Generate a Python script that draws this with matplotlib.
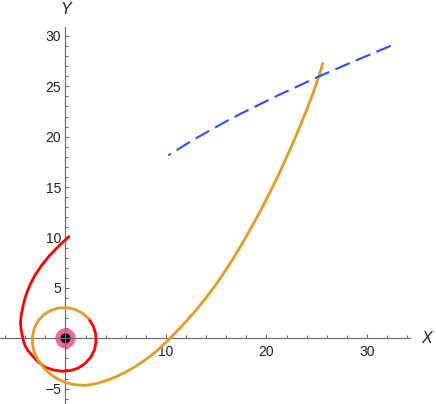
import matplotlib
matplotlib.use('Agg')
import matplotlib.pyplot as plt
from matplotlib.patches import Circle

plt.rcParams['font.family'] = ['Liberation Sans', 'DejaVu Sans']

# Red trajectory
red_x = [2.32, 2.76, 3.0, 3.04, 2.87, 2.49, 1.93, 1.24, 0.45, -0.38, -1.21, -2.04,
         -2.75, -3.07, -3.38, -3.71, -3.99, -4.18, -4.30, -4.42, -4.47, -4.43, -4.30,
         -4.14, -3.90, -3.55, -3.08, -2.40, -1.57, -0.59, 0.35]
red_y = [1.93, 1.23, 0.45, -0.37, -1.18, -1.91, -2.52, -2.97, -3.22, -3.27, -3.14, -2.87,
         -2.32, -1.99, -1.63, -1.24, -0.79, -0.28, 0.27, 0.86, 1.49, 2.15, 2.84,
         3.58, 4.38, 5.26, 6.18, 7.2, 8.22, 9.23, 10.09]

# Orange trajectory
orange_x = [2.30, 1.67, 0.93, 0.12, -0.70, -1.49, -2.18, -2.74, -3.11, -3.28, -3.28,
            -3.08, -2.69, -2.15, -1.43, -0.84, 0.0, 0.89, 1.98, 3.0, 4.0, 5.0, 6.0,
            7.0, 8.0, 9.0, 10.0, 10.4, 10.9, 11.4, 11.9, 12.4, 12.9, 13.4, 13.9, 14.4,
            14.9, 15.4, 15.9, 16.4, 16.9, 17.4, 17.9, 18.4, 18.9, 19.4, 19.9, 20.4,
            20.9, 21.4, 21.9, 22.4, 22.9, 23.4, 23.9, 24.4, 24.7, 25.0, 25.3, 25.6]
orange_y = [1.96, 2.50, 2.87, 3.04, 3.0, 2.76, 2.32, 1.71, 0.98, 0.17, -0.65,
            -1.47, -2.23, -2.95, -3.62, -4.0, -4.4, -4.60, -4.68, -4.51, -4.21, -3.83,
            -3.35, -2.77, -2.1, -1.33, -0.4, 0.0, 0.51, 1.03, 1.56, 2.11, 2.68, 3.28,
            3.91, 4.56, 5.24, 5.95, 6.69, 7.46, 8.26, 9.09, 9.94, 10.82, 11.72, 12.65,
            13.6, 14.59, 15.6, 16.65, 17.73, 18.85, 20.0, 21.19, 22.42, 23.7, 24.5,
            25.35, 26.27, 27.27]

# Blue dashed trajectory
blue_x = [10.23, 12.72, 16.04, 17.36, 21.17, 25.25, 28.64, 32.52]
blue_y = [18.15, 19.69, 21.55, 22.24, 24.11, 25.99, 27.45, 29.08]

x_major = [10, 20, 30]
x_minor = [-6, -4, -2, 2, 4, 6, 8, 12, 14, 16, 18, 22, 24, 26, 28, 32, 34]
y_major = [-5, 5, 10, 15, 20, 25, 30]
y_minor = [v for v in range(-6, 31) if v % 5 != 0]

fig = plt.figure(figsize=(4.36, 4.04), dpi=100)
ax = fig.add_axes([0, 0, 1, 1])
ax.set_xlim(-6.517, 36.87)
ax.set_ylim(-6.52, 33.56)

axis_col = '#707070'
for s in ['top', 'right']:
    ax.spines[s].set_visible(False)
ax.spines['left'].set_position(('data', 0))
ax.spines['bottom'].set_position(('data', 0))
ax.spines['left'].set_bounds(-6.52, 30.9)
ax.spines['bottom'].set_bounds(-6.52, 34.28)
for s in ['left', 'bottom']:
    ax.spines[s].set_color(axis_col)
    ax.spines[s].set_linewidth(0.9)

ax.set_xticks(x_major)
ax.set_xticks(x_minor, minor=True)
ax.set_yticks(y_major)
ax.set_yticks(y_minor, minor=True)
ax.tick_params(which='both', direction='in', color=axis_col, width=0.8,
               labelsize=10, labelcolor='#222222')
ax.tick_params(which='major', length=3.2)
ax.tick_params(which='minor', length=1.9)
ax.tick_params(axis='x', which='major', pad=4.5)
ax.tick_params(axis='y', which='major', pad=3.2)

ax.plot(red_x, red_y, color='#FF0000', lw=2.0, solid_capstyle='round',
        solid_joinstyle='round', zorder=3)
ax.plot(orange_x, orange_y, color='#E19C24', lw=2.0, solid_capstyle='round',
        solid_joinstyle='round', zorder=4)
ax.plot(blue_x, blue_y, color='#2A4CFF', lw=1.5, linestyle=(6.0, (7.5, 3.2)),
        zorder=5)

ax.add_patch(Circle((0, 0), 1.0, color='#F5649F', zorder=1, lw=0))
ax.add_patch(Circle((0, 0), 0.5, color='black', zorder=1.5, lw=0))

ax.text(35.9, 0, 'X', style='italic', fontsize=11.5, ha='center', va='center',
        color='#222222')
ax.text(0, 32.6, 'Y', style='italic', fontsize=11.5, ha='center', va='center',
        color='#222222')

fig.savefig('out.png', dpi=100)
